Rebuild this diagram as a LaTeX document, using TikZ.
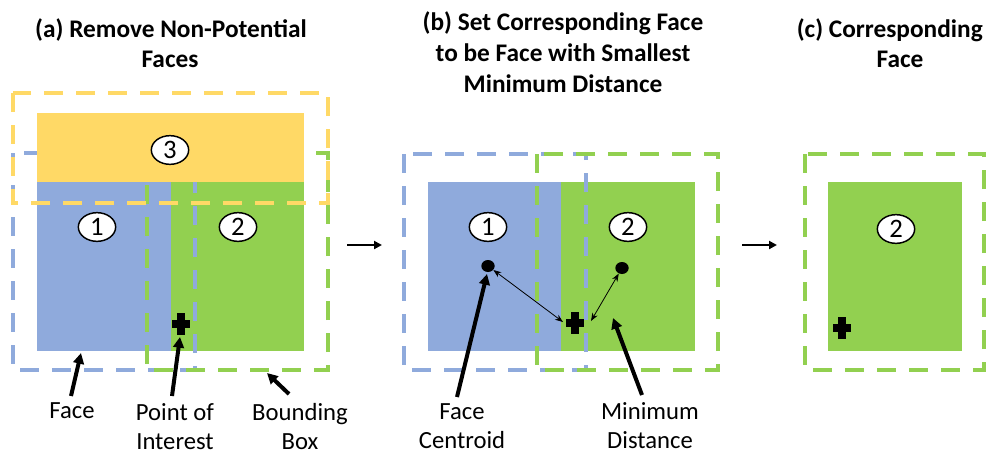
\documentclass[tikz,border=0pt]{standalone}
\usepackage{fontspec}
\setmainfont{Carlito}
\usetikzlibrary{arrows.meta,shapes.geometric}
\definecolor{fblue}{HTML}{8FAADC}
\definecolor{fgreen}{HTML}{92D050}
\definecolor{fyellow}{HTML}{FFD966}
\tikzset{
  bbox/.style={line width=2.6pt, dash pattern=on 14pt off 10pt},
  numcirc/.style={ellipse, draw=black, fill=white, line width=1.1pt, minimum width=28pt, minimum height=21.5pt, inner sep=0pt, font=\fontsize{20}{22}\selectfont},
  titletxt/.style={font=\bfseries\fontsize{19}{22}\selectfont, anchor=base, inner sep=0pt},
  lbltxt/.style={font=\fontsize{18.5}{22}\selectfont, anchor=base, inner sep=0pt},
  ptr/.style={line width=3pt, -{Triangle[length=8pt,width=8pt]}},
  distarrow/.style={line width=0.6pt, {Stealth[length=6pt,width=4.5pt]}-{Stealth[length=6pt,width=4.5pt]}},
  flowarrow/.style={line width=1.8pt, -{Triangle[length=6pt,width=6pt]}},
  centroid/.style={ellipse, fill=black, minimum width=10pt, minimum height=9pt, inner sep=0pt},
  poi/.pic={\fill[black] (-9,-4) rectangle (9,4); \fill[black] (-4,-11) rectangle (4,11);}
}
\begin{document}
\begin{tikzpicture}[x=0.75pt,y=-0.75pt]
\useasboundingbox (0,0) rectangle (986,455);

% ---------- titles ----------
\node[titletxt] (ta1) at (171,37) {(a) Remove Non-Potential};
\node[titletxt] (ta2) at (170,67) {Faces};
\node[titletxt] (tb1) at (563,30) {(b) Set Corresponding Face};
\node[titletxt] (tb2) at (563,61) {to be Face with Smallest};
\node[titletxt] (tb3) at (563,92) {Minimum Distance};
\node[titletxt, anchor=base east] (tc1) at (983,37) {(c) Corresponding};
\node[titletxt] (tc2) at (900,67) {Face};

% ---------- panel (a) ----------
\fill[fblue] (37,182) rectangle (171,351);
\fill[fgreen] (171,182) rectangle (304,351);
\draw[bbox, fblue] (13,153) rectangle (195,370);
\draw[bbox, fgreen] (147,153) rectangle (328,370);
\fill[fyellow] (37,113) rectangle (304,182);
\draw[bbox, fyellow] (13,93) rectangle (328,203);
\node[numcirc] (a1) at (97,227) {1};
\node[numcirc] (a2) at (238,227) {2};
\node[numcirc] (a3) at (170,150) {3};
\pic at (181,324) {poi};

\coordinate (afacetip) at (81,353);
\coordinate (afacetail) at (71,396);
\coordinate (apoitip) at (180,337);
\coordinate (apoitail) at (172,396);
\coordinate (abbtip) at (267,373);
\coordinate (abbtail) at (289,394);
\draw[ptr] (afacetail) -- (afacetip);
\draw[ptr] (apoitail) -- (apoitip);
\draw[ptr] (abbtail) -- (abbtip);

\node[lbltxt] (lface) at (72,418) {Face};
\node[lbltxt] (lpoi1) at (175,420) {Point of};
\node[lbltxt] (lpoi2) at (175,449) {Interest};
\node[lbltxt] (lbb1) at (300,420) {Bounding};
\node[lbltxt] (lbb2) at (300,449) {Box};

% ---------- arrow a -> b ----------
\coordinate (fab1) at (347,245);
\coordinate (fab2) at (382,245);
\draw[flowarrow] (fab1) -- (fab2);

% ---------- panel (b) ----------
\fill[fblue] (428,182) rectangle (561,351);
\fill[fgreen] (561,182) rectangle (695,351);
\draw[bbox, fblue] (404,154) rectangle (586,370);
\draw[bbox, fgreen] (537,154) rectangle (718,370);
\node[numcirc] (b1) at (488,227) {1};
\node[numcirc] (b2) at (628,227) {2};
\node[centroid] (bc1) at (488,266) {};
\node[centroid] (bc2) at (622,268) {};
\pic at (575,323) {poi};
\coordinate (bpl) at (563,322);
\coordinate (bpr) at (591,321);
\draw[distarrow] (bpl) -- (bc1);
\draw[distarrow] (bpr) -- (bc2);

\coordinate (bfctip) at (487,274);
\coordinate (bfctail) at (457,397);
\coordinate (bmdtip) at (613,318);
\coordinate (bmdtail) at (642,395);
\draw[ptr] (bfctail) -- (bfctip);
\draw[ptr] (bmdtail) -- (bmdtip);

\node[lbltxt] (lfc1) at (462,419) {Face};
\node[lbltxt] (lfc2) at (462,448) {Centroid};
\node[lbltxt] (lmd1) at (650,419) {Minimum};
\node[lbltxt] (lmd2) at (650,448) {Distance};

% ---------- arrow b -> c ----------
\coordinate (fbc1) at (742,245);
\coordinate (fbc2) at (777,245);
\draw[flowarrow] (fbc1) -- (fbc2);

% ---------- panel (c) ----------
\fill[fgreen] (828,182) rectangle (962,351);
\draw[bbox, fgreen] (805,154) rectangle (984,370);
\node[numcirc] (c2) at (896,229) {2};
\pic at (842,328) {poi};
\end{tikzpicture}
\end{document}
